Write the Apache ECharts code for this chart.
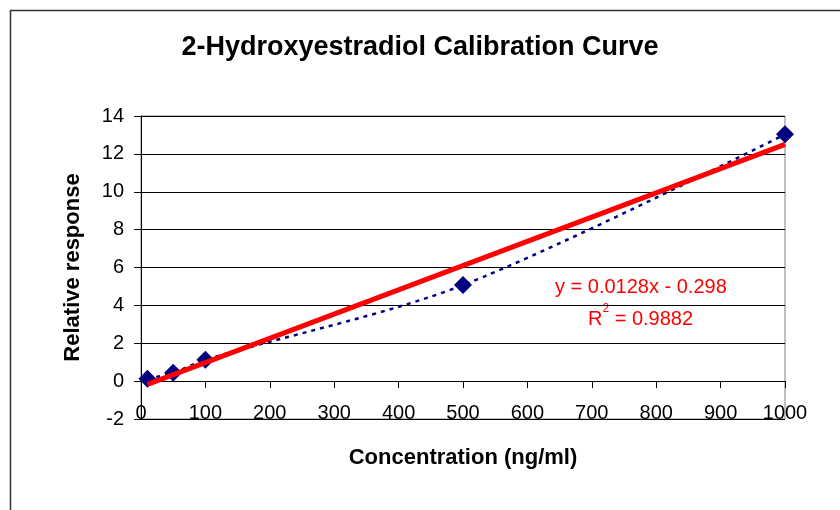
<!DOCTYPE html>
<html>
<head>
<meta charset="utf-8">
<script src="https://cdn.jsdelivr.net/npm/echarts@6/dist/echarts.min.js"></script>
<style>html,body{margin:0;padding:0;background:#fff;}#c{width:840px;height:510px;}</style>
</head>
<body>
<div id="c"></div>
<script>
// Data
var concentration = [10, 50, 100, 500, 1000];
var response = [0.12, 0.44, 1.13, 5.07, 13.03];
// Linear trendline endpoints (y = 0.0128x - 0.298)
var trendX = [10, 1000];
var trendY = [-0.17, 12.50];
var xTicks = [0, 100, 200, 300, 400, 500, 600, 700, 800, 900, 1000];
var yTicks = [-2, 0, 2, 4, 6, 8, 10, 12, 14];
var titleText = '2-Hydroxyestradiol Calibration Curve';
var xName = 'Concentration (ng/ml)';
var yName = 'Relative response';
var eqText = 'y = 0.0128x - 0.298';
var r2Value = '0.9882';

var FONT = "'Liberation Sans', Arial, sans-serif";
var chart = echarts.init(document.getElementById('c'), null, {renderer: 'canvas'});

var points = concentration.map(function (x, i) { return [x, response[i]]; });
var trend = trendX.map(function (x, i) { return [x, trendY[i]]; });

chart.setOption({
  animation: false,
  backgroundColor: '#fff',
  title: {
    text: titleText, left: 'center', top: 29,
    textStyle: {fontFamily: FONT, fontSize: 27, fontWeight: 'bold', color: '#000'}
  },
  graphic: [
    {type: 'rect', shape: {x: 10.5, y: 10.5, width: 1000, height: 1000},
     style: {fill: null, stroke: '#333', lineWidth: 1.5}, silent: true, z: -10},
    {type: 'text', left: 555, top: 277, style: {text: eqText, fill: '#ff0000', font: '20px ' + FONT}},
    {type: 'text', left: 588, top: 303, style: {
      text: '{a|R}{s|2}{a| = ' + r2Value + '}',
      rich: {
        a: {fontFamily: FONT, fontSize: 20, fill: '#ff0000', color: '#ff0000', verticalAlign: 'bottom', lineHeight: 26},
        s: {fontFamily: FONT, fontSize: 12, fill: '#ff0000', color: '#ff0000', verticalAlign: 'top', lineHeight: 26, padding: [0, 0, 11, 0]}
      }
    }}
  ],
  grid: {left: 141, right: 55, top: 116, bottom: 91, show: true, borderColor: '#808080', borderWidth: 1, backgroundColor: '#fff'},
  xAxis: [
    {
      type: 'value', position: 'top', min: 0, max: 1000, interval: 100,
      axisLine: {show: true, onZero: true, lineStyle: {color: '#000', width: 1}},
      axisTick: {show: true, inside: true, length: 7, lineStyle: {color: '#000'}},
      axisLabel: {show: false},
      splitLine: {show: false}
    },
    {
      type: 'value', position: 'bottom', min: 0, max: 1000, interval: 100,
      name: xName, nameLocation: 'middle', nameGap: 28,
      nameTextStyle: {fontFamily: FONT, fontSize: 22, fontWeight: 'bold', color: '#000'},
      axisLine: {show: false, onZero: false},
      axisTick: {show: false},
      axisLabel: {show: true, margin: -16, fontFamily: FONT, fontSize: 20, color: '#000',
        formatter: function (v) { return xTicks.indexOf(v) >= 0 ? String(v) : ''; }},
      splitLine: {show: false}
    }
  ],
  yAxis: {
    type: 'value', min: -2, max: 14, interval: 2,
    name: yName, nameLocation: 'middle', nameGap: 57, nameRotate: 90,
    nameTextStyle: {fontFamily: FONT, fontSize: 22, fontWeight: 'bold', color: '#000'},
    axisLine: {show: true, onZero: false, lineStyle: {color: '#000', width: 1}},
    axisTick: {show: true, length: 7, lineStyle: {color: '#000'}},
    axisLabel: {margin: 17, fontFamily: FONT, fontSize: 20, color: '#000',
      formatter: function (v) { return yTicks.indexOf(v) >= 0 ? String(v) : ''; }},
    splitLine: {show: true, lineStyle: {color: '#000', width: 1}}
  },
  series: [
    {
      type: 'line', xAxisIndex: 0, data: points, smooth: 0.3,
      symbol: 'diamond', symbolSize: 18,
      itemStyle: {color: '#000080'},
      lineStyle: {color: '#000080', width: 2.5, type: [4, 5]},
      z: 3
    },
    {
      type: 'line', xAxisIndex: 0, data: trend, symbol: 'none',
      lineStyle: {color: '#ff0000', width: 5}, z: 4
    }
  ]
});
</script>
</body>
</html>
